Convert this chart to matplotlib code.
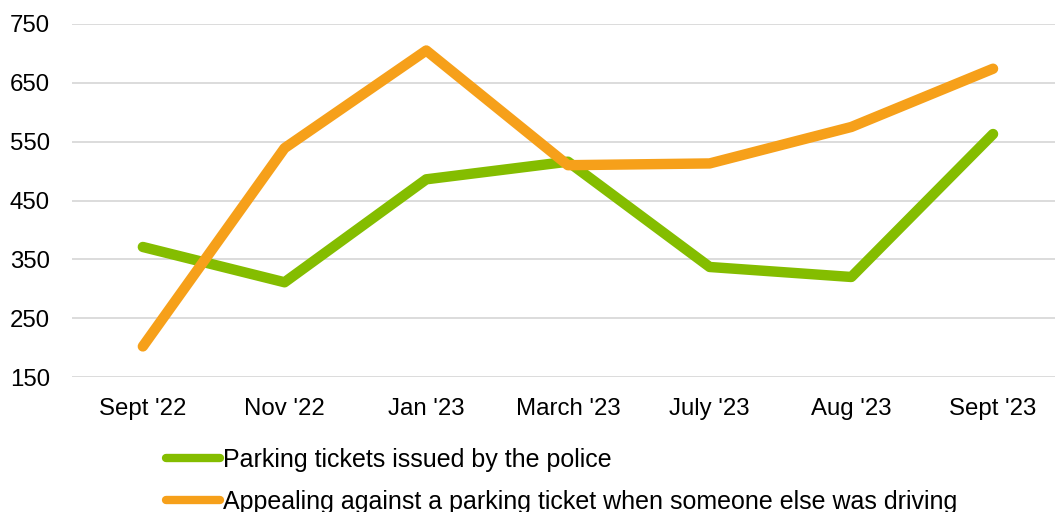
import matplotlib
matplotlib.use("Agg")
import matplotlib.pyplot as plt

plt.rcParams['font.family'] = ['Liberation Sans', 'DejaVu Sans']

categories = ["Sept '22", "Nov '22", "Jan '23", "March '23", "July '23", "Aug '23", "Sept '23"]
police = [371, 311, 486, 516, 337, 320, 563]
appeal = [202, 539, 705, 510, 513, 575, 674]
yticks = [150, 250, 350, 450, 550, 650, 750]

W, H = 1055, 512
fig = plt.figure(figsize=(W/100, H/100), dpi=100)
ax = fig.add_axes([72/W, 1-377/H, (W-72)/W, (377-24)/H])

x = list(range(len(categories)))
green = '#84BD00'
orange = '#F6A01A'
ax.plot(x, police, color=green, lw=7.5, solid_capstyle='round', solid_joinstyle='round',
        label='Parking tickets issued by the police', zorder=3)
ax.plot(x, appeal, color=orange, lw=7.5, solid_capstyle='round', solid_joinstyle='round',
        label='Appealing against a parking ticket when someone else was driving', zorder=4)

ax.set_xlim(-0.5, -0.5 + (W-72)/141.7)
ax.set_ylim(150, 750)
ax.set_yticks(yticks)
ax.set_xticks(x)
ax.set_xticklabels(categories)
ax.tick_params(axis='both', length=0, labelsize=17.3, colors='black')
ax.tick_params(axis='y', pad=16)
ax.tick_params(axis='x', pad=15)
for s in ax.spines.values():
    s.set_visible(False)
ax.yaxis.grid(True, color='#D9D9D9', lw=1.3)
ax.set_axisbelow(True)

leg = fig.legend(loc='upper left', bbox_to_anchor=(166/W, 1-448/H), frameon=False,
                 fontsize=18, handlelength=2.15, handletextpad=0.12, labelspacing=0.72,
                 borderpad=0, borderaxespad=0)
for lh in leg.get_lines():
    lh.set_linewidth(6)
    lh.set_solid_capstyle('round')

fig.savefig('out.png', dpi=100)
